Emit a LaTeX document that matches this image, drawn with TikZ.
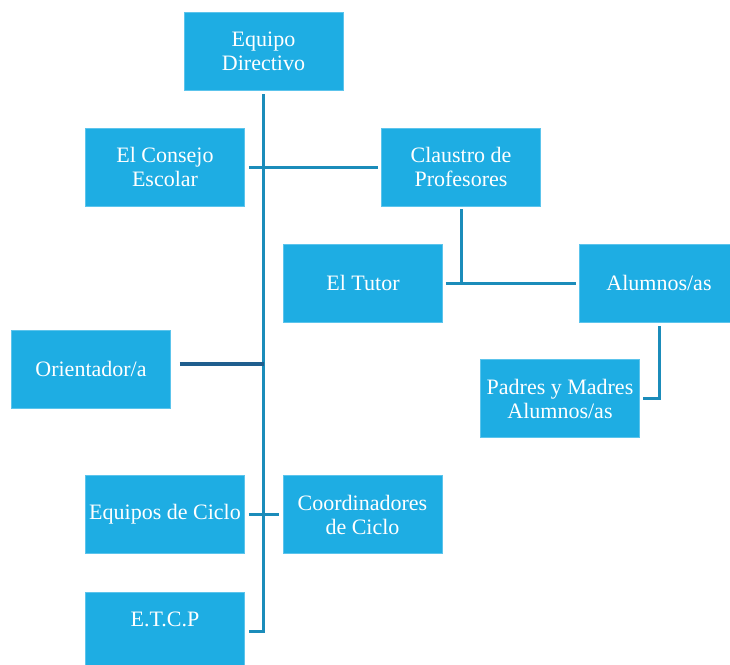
\documentclass[tikz,border=0pt]{standalone}
\usepackage{fontspec}
\setmainfont{Liberation Serif}
\usepackage{tikz}

\definecolor{cajaazul}{HTML}{1EADE3}
\definecolor{bordeazul}{HTML}{5CC4EC}
\definecolor{linea}{HTML}{1B8CBA}
\definecolor{lineaosc}{HTML}{1F5E8E}

\tikzset{
  cajita/.style={draw=bordeazul, line width=0.8pt, fill=cajaazul, text=white,
    minimum width=159pt, minimum height=78pt, inner sep=1pt, align=center,
    font=\fontsize{22}{24}\selectfont},
  rama/.style={draw=linea, line width=3pt},
  ramaosc/.style={draw=lineaosc, line width=4pt}
}

\begin{document}
\begin{tikzpicture}[x=1pt,y=-1pt]
    \useasboundingbox (0,0) rectangle (730,664);
    \node[cajita] (dir) at (263.5,51) {Equipo\\Directivo};
    \node[cajita] (consejo) at (165,167) {El Consejo\\Escolar};
    \node[cajita] (claustro) at (461,167) {Claustro de\\Profesores};
    \node[cajita] (tutor) at (363,283) {El Tutor};
    \node[cajita] (alumnos) at (659,283) {Alumnos/as};
    \node[cajita] (padres) at (560,398.5) {Padres y Madres\\Alumnos/as};
    \node[cajita] (orient) at (91,369) {Orientador/a};
    \node[cajita] (equipos) at (165,514.5) {Equipos de Ciclo};
    \node[cajita] (coord) at (362.5,514.5) {Coordinadores\\de Ciclo};
    \node[cajita] (etcp) at (165,631) {E.T.C.P\\~};
    \draw[rama] ([yshift=-4pt]dir.south) |- ([xshift=4pt]etcp.east);
    \draw[rama] ([xshift=4pt]consejo.east) -- ([xshift=-3pt]claustro.west);
    \draw[rama] ([yshift=-3pt]claustro.south) -- (claustro.south |- tutor.east);
    \draw[rama] ([xshift=3pt]tutor.east) -- ([xshift=-3pt]alumnos.west);
    \draw[rama] ([yshift=-4pt]alumnos.south) |- ([xshift=3pt]padres.east);
    \coordinate (o) at ([shift={(9pt,5pt)}]orient.east);
    \draw[ramaosc] (o) -- (o -| dir.south);
    \draw[rama] ([xshift=4pt]equipos.east) -- ([xshift=-4pt]coord.west);
  \end{tikzpicture}
\end{document}
